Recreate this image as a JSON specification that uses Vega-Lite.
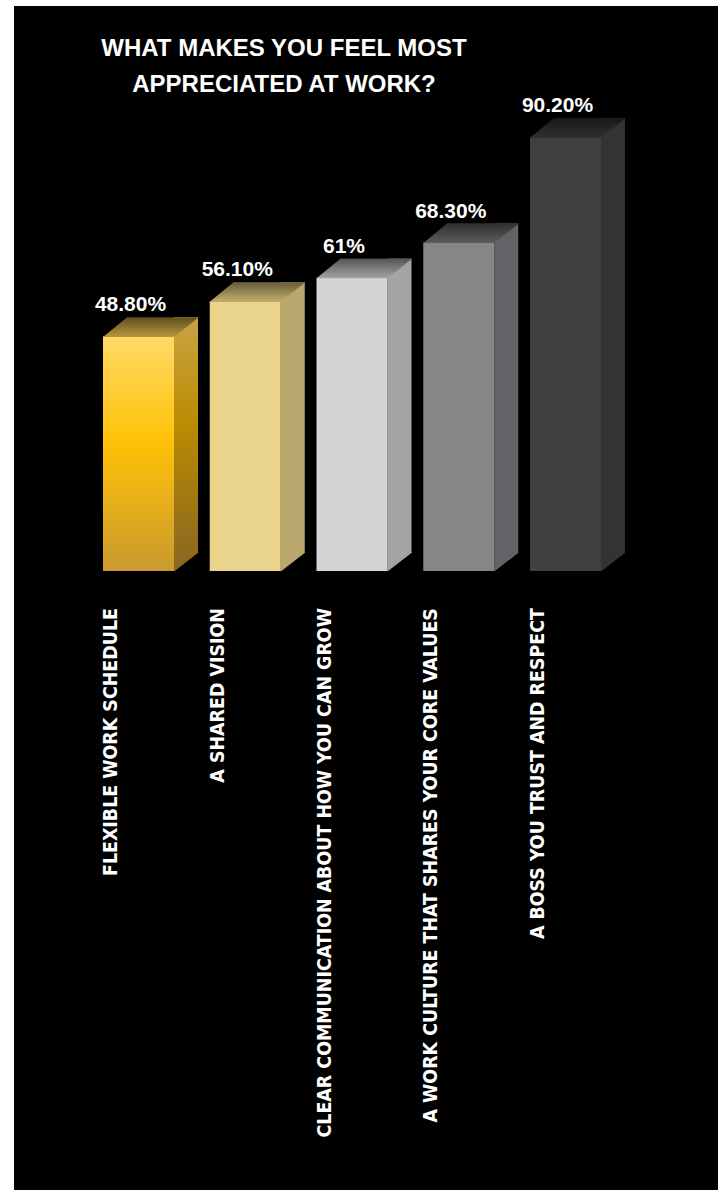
{
  "$schema": "https://vega.github.io/schema/vega-lite/v6.json",
  "autosize": {"type": "fit", "contains": "padding"},
  "width": 722,
  "height": 1190,
  "padding": {"left": 14, "top": 6, "right": 4, "bottom": 0},
  "background": "white",
  "config": {"view": {"fill": "#000000", "stroke": null}},
  "title": {
    "text": ["WHAT MAKES YOU FEEL MOST", "APPRECIATED AT WORK?"],
    "anchor": "middle",
    "frame": "group",
    "orient": "top",
    "offset": -91,
    "baseline": "top",
    "dx": -82,
    "font": "Liberation Sans",
    "fontSize": 24,
    "fontWeight": "bold",
    "color": "#ffffff",
    "lineHeight": 36
  },
  "data": {
    "values": [
      {"cat": "FLEXIBLE WORK SCHEDULE", "value": 48.8, "label": "48.80%"},
      {"cat": "A SHARED VISION", "value": 56.1, "label": "56.10%"},
      {"cat": "CLEAR COMMUNICATION ABOUT HOW YOU CAN GROW", "value": 61, "label": "61%"},
      {"cat": "A WORK CULTURE THAT SHARES YOUR CORE VALUES", "value": 68.3, "label": "68.30%"},
      {"cat": "A BOSS YOU TRUST AND RESPECT", "value": 90.2, "label": "90.20%"}
    ]
  },
  "encoding": {
    "x": {
      "field": "cat",
      "type": "nominal",
      "sort": null,
      "axis": null,
      "scale": {"paddingInner": 0, "paddingOuter": 0.7975, "align": 0.5}
    }
  },
  "resolve": {"scale": {"color": "independent"}},
  "layer": [
    {
      "mark": {"type": "bar", "width": 24, "xOffset": 33.5, "yOffset": -19, "y2Offset": -18},
      "encoding": {
        "y": {"field": "value", "type": "quantitative", "axis": null, "scale": {"domain": [-128.7, 117.5], "nice": false, "zero": false}},
        "y2": {"datum": 0},
        "color": {
          "field": "cat", "type": "nominal", "legend": null,
          "scale": {"domain": ["FLEXIBLE WORK SCHEDULE", "A SHARED VISION", "CLEAR COMMUNICATION ABOUT HOW YOU CAN GROW", "A WORK CULTURE THAT SHARES YOUR CORE VALUES", "A BOSS YOU TRUST AND RESPECT"],
            "range": ["#B8900A", "#BBA86F", "#A3A4A3", "#636266", "#333333"]}
        }
      }
    },
    {
      "transform": [{"filter": "datum.cat === 'FLEXIBLE WORK SCHEDULE'"}],
      "mark": {"type": "bar", "width": 24, "xOffset": 33.5, "yOffset": -19, "y2Offset": -18,
        "fill": {"gradient": "linear", "x1": 0, "y1": 0, "x2": 0, "y2": 1,
          "stops": [{"offset": 0, "color": "#C9A444"}, {"offset": 0.45, "color": "#BA8C02"}, {"offset": 1, "color": "#8F6A1E"}]}},
      "encoding": {
        "y": {"field": "value", "type": "quantitative"},
        "y2": {"datum": 0}
      }
    },
    {
      "mark": {"type": "point", "shape": "M 0.43 -0.37 L 0.92 -0.37 L 0.43 0.01 Z", "size": 10000, "filled": true, "opacity": 1, "strokeWidth": 0},
      "encoding": {
        "y": {"datum": 0},
        "color": {
          "field": "cat", "type": "nominal", "legend": null,
          "scale": {"domain": ["FLEXIBLE WORK SCHEDULE", "A SHARED VISION", "CLEAR COMMUNICATION ABOUT HOW YOU CAN GROW", "A WORK CULTURE THAT SHARES YOUR CORE VALUES", "A BOSS YOU TRUST AND RESPECT"],
            "range": ["#8F6A1E", "#BBA86F", "#A3A4A3", "#636266", "#333333"]}
        }
      }
    },
    {
      "mark": {"type": "bar", "width": 71, "xOffset": -14},
      "encoding": {
        "y": {"field": "value", "type": "quantitative"},
        "y2": {"datum": 0},
        "color": {
          "field": "cat", "type": "nominal", "legend": null,
          "scale": {"domain": ["FLEXIBLE WORK SCHEDULE", "A SHARED VISION", "CLEAR COMMUNICATION ABOUT HOW YOU CAN GROW", "A WORK CULTURE THAT SHARES YOUR CORE VALUES", "A BOSS YOU TRUST AND RESPECT"],
            "range": ["#FFC000", "#EAD48B", "#D3D4D6", "#858688", "#404040"]}
        }
      }
    },
    {
      "transform": [{"filter": "datum.cat === 'FLEXIBLE WORK SCHEDULE'"}],
      "mark": {"type": "bar", "width": 71, "xOffset": -14,
        "fill": {"gradient": "linear", "x1": 0, "y1": 0, "x2": 0, "y2": 1,
          "stops": [{"offset": 0, "color": "#FFD966"}, {"offset": 0.45, "color": "#FFC107"}, {"offset": 1, "color": "#C99A30"}]}},
      "encoding": {
        "y": {"field": "value", "type": "quantitative"},
        "y2": {"datum": 0}
      }
    },
    {
      "mark": {"type": "point", "shape": "M -0.99 0.01 L 0.43 0.01 L 0.92 -0.38 L -0.51 -0.38 Z", "size": 10000, "filled": true, "opacity": 1, "strokeWidth": 0},
      "encoding": {
        "y": {"field": "value", "type": "quantitative"},
        "color": {
          "field": "cat", "type": "nominal", "legend": null,
          "scale": {"domain": ["FLEXIBLE WORK SCHEDULE", "A SHARED VISION", "CLEAR COMMUNICATION ABOUT HOW YOU CAN GROW", "A WORK CULTURE THAT SHARES YOUR CORE VALUES", "A BOSS YOU TRUST AND RESPECT"],
            "range": ["#B8963E", "#C4AE6E", "#A2A3A2", "#5C5C5E", "#303030"]}
        }
      }
    },
    {
      "mark": {"type": "point", "shape": "M -0.99 0.01 L 0.43 0.01 L 0.92 -0.38 L -0.51 -0.38 Z", "size": 10000, "filled": true, "opacity": 1, "strokeWidth": 0,
        "fill": {"gradient": "linear", "x1": 0, "y1": 0, "x2": 0, "y2": 1,
          "stops": [{"offset": 0, "color": "rgba(0,0,0,0.48)"}, {"offset": 1, "color": "rgba(0,0,0,0)"}]}},
      "encoding": {
        "y": {"field": "value", "type": "quantitative"}
      }
    },
    {
      "mark": {"type": "text", "font": "Liberation Sans", "fontSize": 21, "fontWeight": "bold", "color": "#ffffff", "align": "center", "baseline": "alphabetic", "dx": -22, "dy": -25},
      "encoding": {
        "y": {"field": "value", "type": "quantitative"},
        "text": {"field": "label"}
      }
    },
    {
      "mark": {"type": "text", "font": "DejaVu Sans Condensed", "fontSize": 19.4, "fontWeight": "bold", "color": "#ffffff", "angle": 270, "align": "right", "baseline": "middle", "xOffset": -41.5, "yOffset": 37},
      "encoding": {
        "y": {"datum": 0},
        "text": {"field": "cat"}
      }
    }
  ]
}
